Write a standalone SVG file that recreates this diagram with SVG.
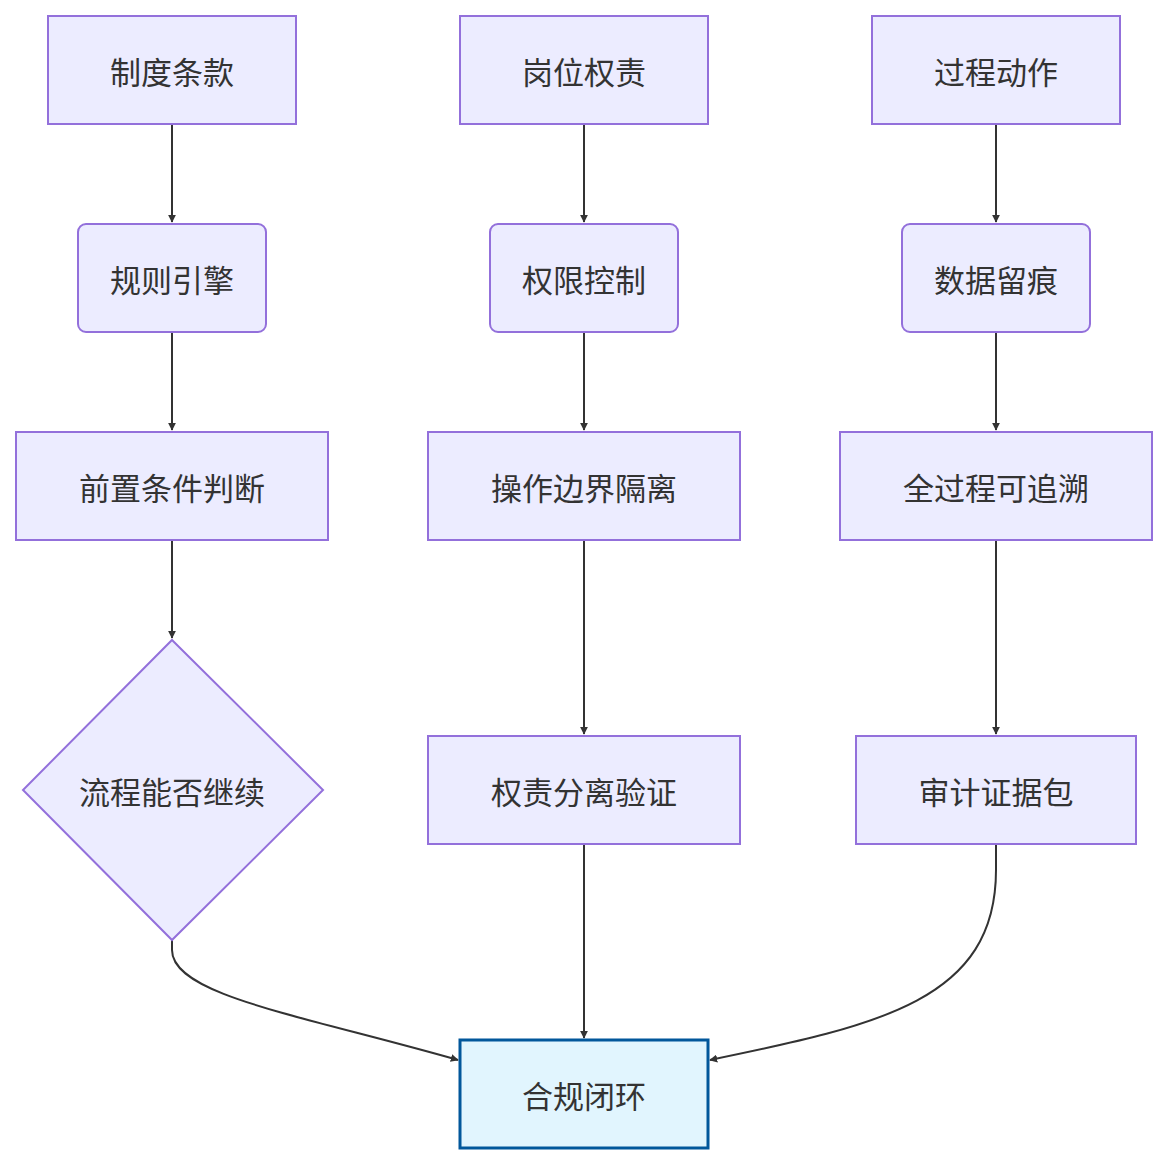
<svg xmlns="http://www.w3.org/2000/svg" width="1168" height="1164" viewBox="0 0 1168 1164">
<style>
.n{fill:#ececff;stroke:#9370db;stroke-width:2}
.t{font-family:"Noto Sans CJK SC",sans-serif;font-size:31px;fill:#333;text-anchor:middle;dominant-baseline:central}
.e{fill:none;stroke:#333;stroke-width:2;marker-end:url(#a)}
</style>
<defs><marker id="a" viewBox="0 0 10 10" refX="9" refY="5" markerWidth="8" markerHeight="8" markerUnits="userSpaceOnUse" orient="auto"><path d="M0,0L10,5L0,10z" fill="#333"/></marker></defs>
<rect width="1168" height="1164" fill="#fff"/>
<g id="edges">
<path class="e" d="M172,124V222"/><path class="e" d="M172,332V430"/><path class="e" d="M172,540V638"/>
<path class="e" d="M584,124V222"/><path class="e" d="M584,332V430"/><path class="e" d="M584,540V734"/><path class="e" d="M584,844V1038"/>
<path class="e" d="M996,124V222"/><path class="e" d="M996,332V430"/><path class="e" d="M996,540V734"/>
<path class="e" d="M172,940V950C172,995 300,1015 458,1060"/>
<path class="e" d="M996,844V870C996,1000 880,1025 710,1060"/>
</g>
<g id="n1"><rect class="n" x="48" y="16" width="248" height="108"/><text class="t" x="172" y="70">制度条款</text></g>
<g id="n2"><rect class="n" x="460" y="16" width="248" height="108"/><text class="t" x="584" y="70">岗位权责</text></g>
<g id="n3"><rect class="n" x="872" y="16" width="248" height="108"/><text class="t" x="996" y="70">过程动作</text></g>
<g id="n4"><rect class="n" x="78" y="224" width="188" height="108" rx="8"/><text class="t" x="172" y="278">规则引擎</text></g>
<g id="n5"><rect class="n" x="490" y="224" width="188" height="108" rx="8"/><text class="t" x="584" y="278">权限控制</text></g>
<g id="n6"><rect class="n" x="902" y="224" width="188" height="108" rx="8"/><text class="t" x="996" y="278">数据留痕</text></g>
<g id="n7"><rect class="n" x="16" y="432" width="312" height="108"/><text class="t" x="172" y="486">前置条件判断</text></g>
<g id="n8"><rect class="n" x="428" y="432" width="312" height="108"/><text class="t" x="584" y="486">操作边界隔离</text></g>
<g id="n9"><rect class="n" x="840" y="432" width="312" height="108"/><text class="t" x="996" y="486">全过程可追溯</text></g>
<g id="n10"><polygon class="n" points="172,640 323,790 172,940 23,790"/><text class="t" x="172" y="790">流程能否继续</text></g>
<g id="n11"><rect class="n" x="428" y="736" width="312" height="108"/><text class="t" x="584" y="790">权责分离验证</text></g>
<g id="n12"><rect class="n" x="856" y="736" width="280" height="108"/><text class="t" x="996" y="790">审计证据包</text></g>
<g id="n13"><rect x="460" y="1040" width="248" height="108" fill="#e1f5fe" stroke="#01579b" stroke-width="3"/><text class="t" x="584" y="1094">合规闭环</text></g>
</svg>
